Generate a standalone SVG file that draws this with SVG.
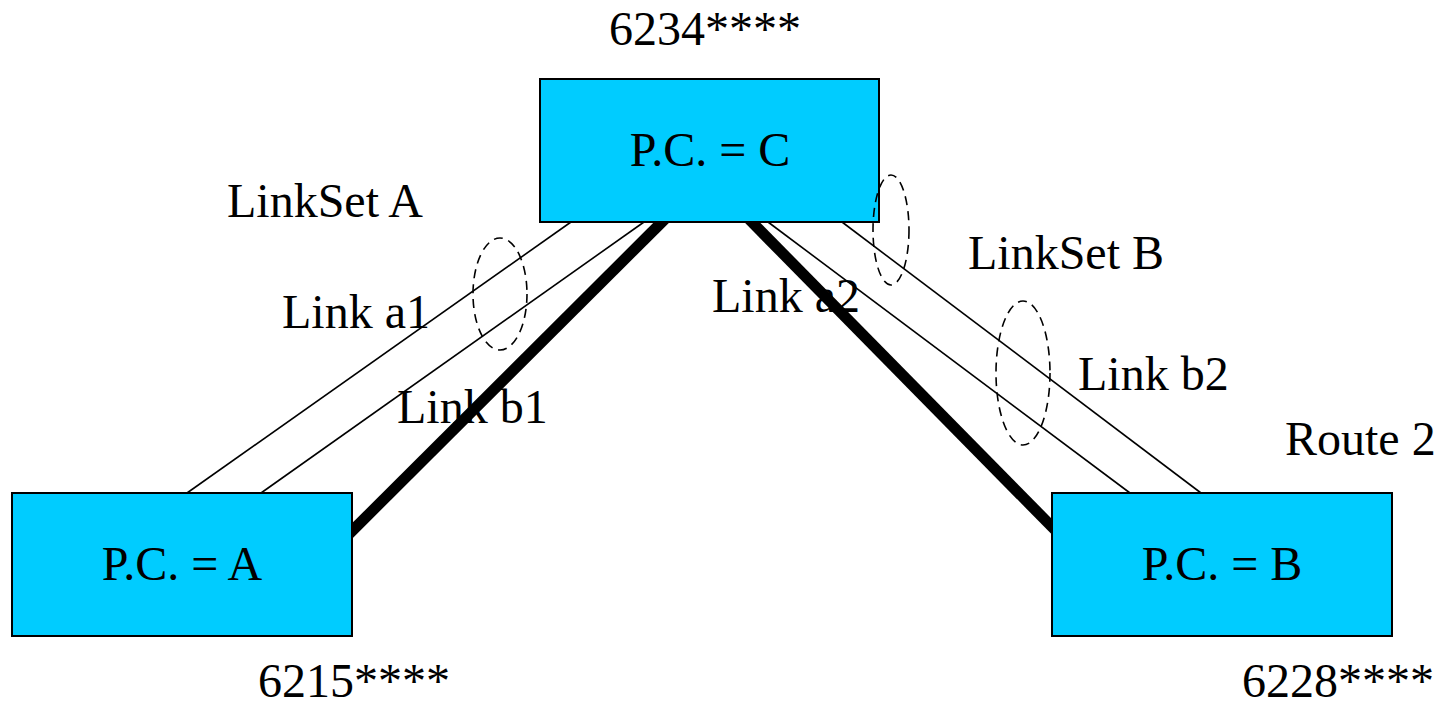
<svg xmlns="http://www.w3.org/2000/svg" width="1437" height="705" viewBox="0 0 1437 705">
<style>
.box{fill:#00CCFF;stroke:#000;stroke-width:2}
.t{font-family:"Liberation Serif","Times New Roman",serif;font-size:48px;fill:#000}
.thin{stroke:#000;stroke-width:1.6;fill:none}
.thick{stroke:#000;stroke-width:11;fill:none}
.grp{stroke:#000;stroke-width:1.6;fill:none;stroke-dasharray:9 6}
</style>
<rect width="1437" height="705" fill="#fff"/>
<g id="connectors">
<line class="thin" x1="571" y1="222" x2="187" y2="493"/>
<line class="thin" x1="644" y1="222" x2="261" y2="493"/>
<line class="thick" x1="672" y1="212" x2="342" y2="541"/>
<line class="thick" x1="742" y1="212" x2="1062" y2="537"/>
<line class="thin" x1="768" y1="222" x2="1130" y2="493"/>
<line class="thin" x1="842" y1="222" x2="1201" y2="493"/>
</g>
<g id="nodeC">
<rect class="box" x="540" y="79" width="339" height="143"/>
<text class="t" x="710" y="166" text-anchor="middle">P.C. = C</text>
</g>
<g id="nodeA">
<rect class="box" x="12" y="493" width="340" height="143"/>
<text class="t" x="182" y="580" text-anchor="middle">P.C. = A</text>
</g>
<g id="nodeB">
<rect class="box" x="1052" y="493" width="340" height="143"/>
<text class="t" x="1222" y="580" text-anchor="middle">P.C. = B</text>
</g>
<g id="linksets">
<ellipse class="grp" cx="500" cy="294" rx="27" ry="56"/>
<ellipse class="grp" cx="891" cy="230" rx="18" ry="55"/>
<ellipse class="grp" cx="1023" cy="373" rx="27" ry="72"/>
</g>
<g id="labels">
<text class="t" x="609" y="45">6234****</text>
<text class="t" x="227" y="217">LinkSet A</text>
<text class="t" x="282" y="328">Link a1</text>
<text class="t" x="397" y="423">Link b1</text>
<text class="t" x="712" y="312">Link a2</text>
<text class="t" x="968" y="269">LinkSet B</text>
<text class="t" x="1078" y="390">Link b2</text>
<text class="t" x="1285" y="455">Route 2</text>
<text class="t" x="258" y="697">6215****</text>
<text class="t" x="1242" y="697">6228****</text>
</g>
</svg>
